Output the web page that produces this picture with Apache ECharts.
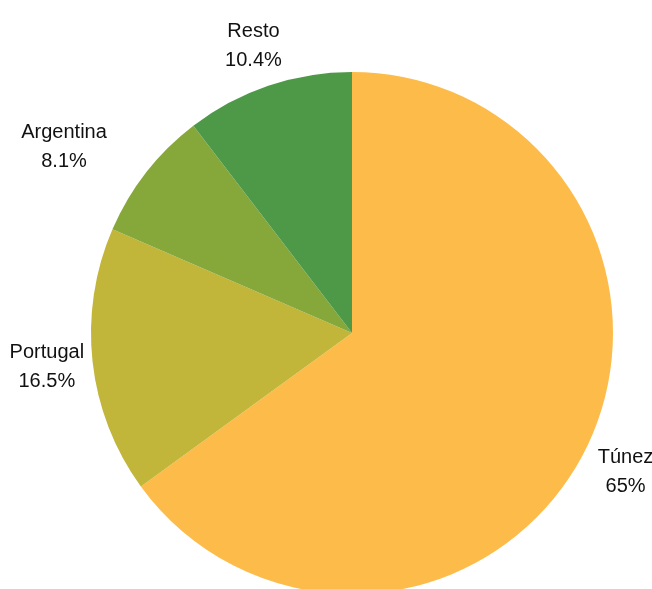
<!DOCTYPE html>
<html>
<head>
  <meta charset="utf-8" />
  <title>Pie</title>
  <style>
    html, body { margin: 0; padding: 0; background: #fff; }
    #chart { width: 652px; height: 589px; }
  </style>
</head>
<body>
  <div id="chart"></div>
  <script src="https://cdn.jsdelivr.net/npm/echarts@6/dist/echarts.min.js"></script>
  <script>
    var names = ['Túnez', 'Portugal', 'Argentina', 'Resto'];
    var values = [65, 16.5, 8.1, 10.4];
    var colors = ['#FDBC4A', '#C1B53A', '#86A83B', '#4E9948'];

    // small nudges so labels land where the original put them
    var labelOffsets = { 'Argentina': [-46, 3], 'Resto': [0, 4] };

    var pieData = [];
    var labelData = [];
    for (var i = 0; i < names.length; i++) {
      pieData.push({ value: values[i], name: names[i], itemStyle: { color: colors[i] } });
      var item = { value: values[i], name: names[i] };
      if (labelOffsets[names[i]]) item.label = { offset: labelOffsets[names[i]] };
      labelData.push(item);
    }

    var chart = echarts.init(document.getElementById('chart'));
    chart.setOption({
      animation: false,
      series: [
        {
          type: 'pie',
          center: [352, 333],
          radius: 261,
          startAngle: 90,
          clockwise: true,
          label: { show: false },
          labelLine: { show: false },
          itemStyle: { borderWidth: 0 },
          data: pieData
        },
        {
          // transparent ring that only carries the labels
          type: 'pie',
          silent: true,
          center: [352, 333],
          radius: [294, 314],
          startAngle: 90,
          clockwise: true,
          itemStyle: { color: 'rgba(0,0,0,0)' },
          labelLine: { show: false },
          label: {
            show: true,
            position: 'inside',
            formatter: function (p) { return p.name + '\n' + p.value + '%'; },
            fontFamily: 'Liberation Sans',
            fontSize: 20,
            lineHeight: 29,
            color: '#111',
            align: 'center'
          },
          data: labelData
        }
      ]
    });
  </script>
</body>
</html>
